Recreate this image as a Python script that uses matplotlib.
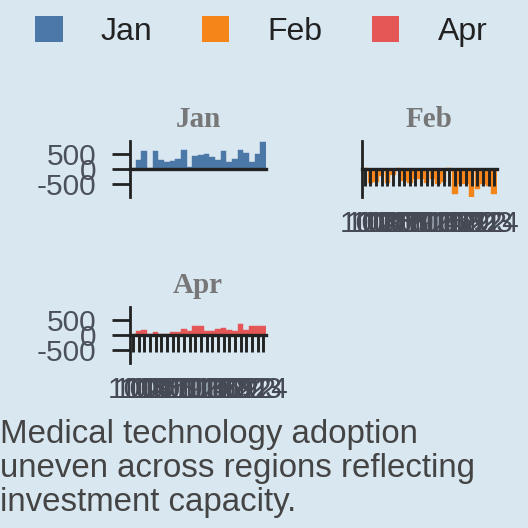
import matplotlib
matplotlib.use("Agg")
import matplotlib.pyplot as plt
from matplotlib.patches import Patch

plt.rcParams["font.family"] = ["Liberation Sans", "DejaVu Sans"]

BG = "#d9e7f1"

months = ["Jan", "Feb", "Apr"]
colors = ["#4c78a8", "#f58518", "#e45756"]
x_labels = ["101", "102", "103", "104", "105", "106", "107", "108",
            "109", "110", "111", "112", "113", "114", "115", "116",
            "117", "118", "119", "120", "121", "122", "123", "124"]

jan = [60, 333, 610, 50, 610, 333, 245, 290, 355, 665, 90, 465,
       475, 530, 400, 300, 600, 265, 355, 665, 555, 265, 510, 910]
feb = [40, -466, -430, -210, -466, -180, 66, -400, -466, -320, -320, -466,
       -320, -490, -430, 40, -820, -490, -490, -910, -650, -490, -540, -820]
apr = [66, 155, 178, 55, 133, 66, 66, 111, 122, 233, 155, 333,
       300, 144, 144, 222, 266, 178, 166, 377, 178, 333, 300, 333]

caption = ("Medical technology adoption\nuneven across regions reflecting\n"
           "investment capacity.")

fig = plt.figure(figsize=(5.28, 5.28), dpi=100)
fig.patch.set_facecolor(BG)

W, H = 528, 528
def box(x0, y0, x1, y1):
    return [x0 / W, 1 - y1 / H, (x1 - x0) / W, (y1 - y0) / H]

panels = [
    (box(130, 141, 266, 197), jan, 0, True, False),
    (box(362, 141, 497, 197), feb, 1, False, True),
    (box(130, 307, 266, 363), apr, 2, True, True),
]

xs = list(range(len(x_labels)))
for rect, vals, i, show_y, show_x in panels:
    ax = fig.add_axes(rect)
    ax.set_facecolor("none")
    ax.bar(xs, vals, width=0.97, color=colors[i], edgecolor=colors[i],
           linewidth=0.3, zorder=1)
    ax.set_xlim(-0.5, len(xs) - 0.5)
    ax.set_ylim(-917, 950)
    for s in ["top", "right"]:
        ax.spines[s].set_visible(False)
    ax.spines["bottom"].set_position(("data", 0))
    ax.spines["bottom"].set_color("#222222")
    ax.spines["bottom"].set_linewidth(2.4)
    ax.spines["left"].set_color("#222222")
    ax.spines["left"].set_linewidth(2.0)
    ax.set_title(months[i], fontsize=21, fontweight="bold", color="#777777",
                 family=["Liberation Serif", "DejaVu Serif"], pad=10)
    if show_y:
        ax.set_yticks([-500, 0, 500])
        ax.set_yticklabels(["-500", "0", "500"])
        ax.tick_params(axis="y", length=13, width=2.0, color="#222222",
                       pad=11, labelsize=21.5, labelcolor="#4b515c")
    else:
        ax.set_yticks([])
    if show_x:
        ax.set_xticks(xs)
        ax.set_xticklabels(x_labels)
        ax.tick_params(axis="x", length=12.5, width=2.1, color="#222222",
                       pad=17, labelsize=21.5, labelcolor="#454a54")
    else:
        ax.set_xticks([])

handles = [Patch(facecolor=c, edgecolor="none") for c in colors]
fig.legend(handles, months, loc="center", bbox_to_anchor=(0.495, 0.94),
           ncol=3, frameon=False, fontsize=23, handlelength=0.85,
           handleheight=0.85, handletextpad=1.2, columnspacing=1.55,
           labelcolor="#222222")

fig.text(0.0, 0.206, caption, fontsize=23.8, color="#444444",
         va="top", ha="left", linespacing=1.13)

fig.savefig("out.png", dpi=100, facecolor=BG)
